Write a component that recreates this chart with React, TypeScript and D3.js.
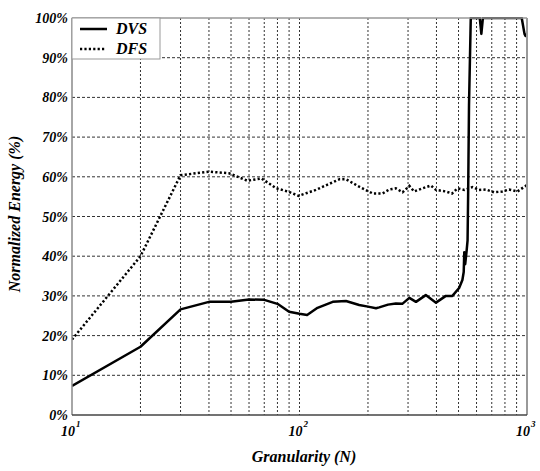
import React from "react";
import * as d3 from "d3";

const dvsN = [10, 20, 30, 40, 50, 60, 70, 80, 90, 100, 108, 120, 140, 160, 183, 200, 217, 224, 245, 265, 283, 304, 325, 359, 398, 440, 470, 503, 520, 527, 530, 535, 543, 548, 551, 553, 556, 566, 620, 630, 640, 948, 975, 985, 1000];
const dvsV = [7.3, 17.2, 26.6, 28.5, 28.5, 29.1, 29, 28, 26, 25.5, 25.2, 27, 28.5, 28.7, 27.7, 27.3, 26.9, 27.1, 27.8, 28.1, 28, 29.5, 28.5, 30.2, 28.3, 30, 30, 32, 34, 36, 41, 38, 41.5, 44, 55, 64, 78, 100, 100, 96, 100, 100, 96, 95.5, 96];

const dfsN = [10, 20, 30, 40, 49, 59, 68, 79, 90, 99, 118, 150, 160, 183, 210, 232, 248, 265, 284, 304, 319, 347, 378, 398, 440, 468, 495, 530, 576, 615, 659, 717, 779, 834, 907, 986, 1000];
const dfsV = [19, 40, 60.4, 61.3, 60.9, 59, 59.6, 57.1, 56.2, 55.2, 56.7, 59.4, 59.4, 57.5, 55.8, 55.8, 56.8, 57.1, 56.1, 57.7, 56.3, 57.1, 57.8, 56.7, 56.3, 55.8, 57.1, 56.7, 57.4, 56.7, 56.8, 56.1, 56.3, 56.8, 56.3, 57.7, 58];

const yTicks = [0, 10, 20, 30, 40, 50, 60, 70, 80, 90, 100];
const xDecades = [1, 2, 3];
const seriesNames = ["DVS", "DFS"];

const L = 72, R = 527, T = 18, B = 415;
const txt: React.CSSProperties = { fontFamily: "Liberation Serif, DejaVu Serif, serif", fontWeight: 700, fontStyle: "italic" };

export default function App() {
  const x = d3.scaleLog().domain([10, 1000]).range([L, R]);
  const y = d3.scaleLinear().domain([0, 100]).range([B, T]);
  const line = d3.line<[number, number]>().x(d => x(d[0])).y(d => y(d[1]));
  const dvs = dvsN.map((n, i) => [n, dvsV[i]] as [number, number]);
  const dfs = dfsN.map((n, i) => [n, dfsV[i]] as [number, number]);
  const vgrid: number[] = [];
  for (let d = 10; d < 1000; d *= 10) for (let k = 1; k <= 9; k++) if (k > 1 || d > 10) vgrid.push(k * d);

  return (
    <svg width={540} height={471} style={{ position: "absolute", left: 0, top: 0, background: "#fff" }}>
      <defs>
        <clipPath id="plot"><rect x={L} y={T - 1} width={R - L} height={B - T + 1} /></clipPath>
      </defs>
      {vgrid.filter(v => v < 1000).map(v => (
        <line key={"v" + v} x1={x(v)} x2={x(v)} y1={T} y2={B} stroke="#333" strokeWidth={1} strokeDasharray="2,2" />
      ))}
      {yTicks.filter(t => t > 0 && t < 100).map(t => (
        <line key={"h" + t} x1={L} x2={R} y1={y(t)} y2={y(t)} stroke="#333" strokeWidth={1} strokeDasharray="3,2" />
      ))}
      <g clipPath="url(#plot)">
        <path d={line(dfs) || ""} fill="none" stroke="#000" strokeWidth={2.5} strokeDasharray="2.2,2.2" />
        <path d={line(dvs) || ""} fill="none" stroke="#000" strokeWidth={2.5} strokeLinejoin="round" />
      </g>
      <line x1={L} x2={R} y1={T} y2={T} stroke="#999" strokeWidth={1.5} />
      <line x1={R} x2={R} y1={T} y2={B} stroke="#999" strokeWidth={2} />
      <line x1={L} x2={L} y1={T} y2={B} stroke="#888" strokeWidth={1.5} />
      <line x1={L} x2={R} y1={B} y2={B} stroke="#444" strokeWidth={1.5} />
      {yTicks.map(t => (
        <text key={"yt" + t} x={68} y={y(t) + 5} textAnchor="end" style={txt} fontSize={14}>{t}%</text>
      ))}
      {xDecades.map(e => (
        <g key={"xt" + e}>
          <text x={x(Math.pow(10, e)) + 3} y={436} textAnchor="end" style={txt} fontSize={14}>10</text>
          <text x={x(Math.pow(10, e)) + 4} y={427} style={txt} fontSize={9}>{e}</text>
        </g>
      ))}
      <text x={304} y={462} textAnchor="middle" style={txt} fontSize={16}>Granularity (N)</text>
      <text transform="translate(20,214) rotate(-90)" textAnchor="middle" style={txt} fontSize={16}>Normalized Energy (%)</text>
      <rect x={L} y={T} width={88} height={41} fill="#fff" stroke="#999" strokeWidth={1} />
      <line x1={80} x2={107} y1={29} y2={29} stroke="#000" strokeWidth={2.5} />
      <line x1={80} x2={106} y1={49} y2={49} stroke="#000" strokeWidth={2.5} strokeDasharray="2.2,2.2" />
      {seriesNames.map((s, i) => (
        <text key={s} x={116} y={34 + i * 20} style={txt} fontSize={16}>{s}</text>
      ))}
    </svg>
  );
}
